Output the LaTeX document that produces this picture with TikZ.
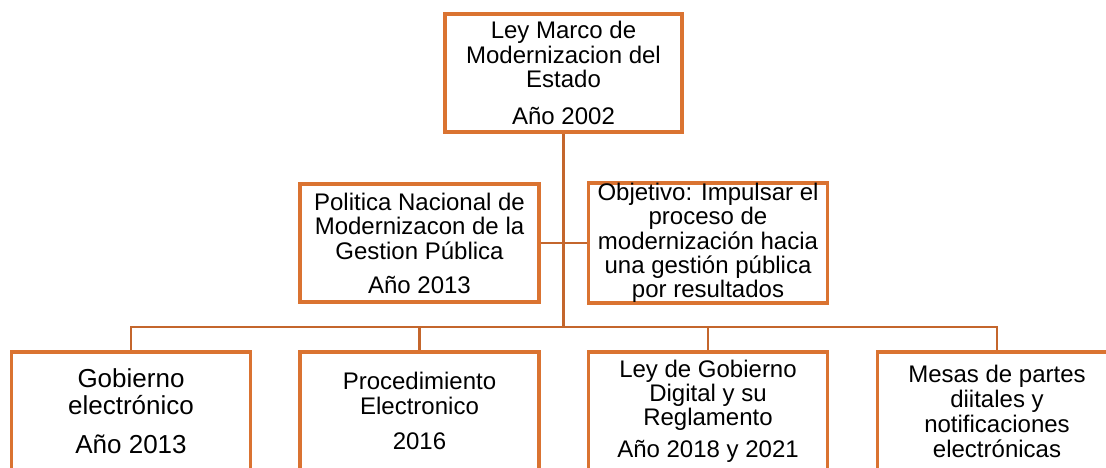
\documentclass[tikz,border=0pt]{standalone}
\usepackage{fontspec}
\setmainfont{Liberation Sans}
\usepackage{tikz}
\usetikzlibrary{positioning}
\definecolor{naranja}{HTML}{DA7331}
\definecolor{cobre}{HTML}{C4662C}

\begin{document}
\begin{tikzpicture}
  [
    x=1pt, y=1pt,
    Caja/.style={rectangle, draw=naranja, line width=3.8pt, minimum width=239pt, minimum height=118pt, inner sep=0pt, align=center, font=\fontsize{24}{24.5}\selectfont},
    Grande/.style={Caja, font=\fontsize{26}{27.5}\selectfont},
    Linea/.style={draw=cobre, line width=2.2pt}
  ]
  \useasboundingbox (0,0) rectangle (1106,-467);

  % Nodes
  \node[Caja, minimum width=237pt] (marco) at (563.5,-73) {Ley Marco de\\Modernizacion del\\Estado\\[12pt]Año 2002};

  \node[Caja] (politica) at (419.5,-243) {Politica Nacional de\\Modernizacon de la\\Gestion Pública\\[9.5pt]Año 2013};

  \node[Caja, font=\fontsize{24}{24.3}\selectfont] (objetivo) at (708,-243) {Objetivo: Impulsar el\\proceso de\\modernización hacia\\una gestión pública\\por resultados};

  \node[Grande] (gobierno) at (131,-411) {Gobierno\\electrónico\\[11.5pt]Año 2013};

  \node[Caja] (procedimiento) at (419.5,-411) {Procedimiento\\Electronico\\[10.5pt]2016};

  \node[Caja, font=\fontsize{24}{24}\selectfont] (digital) at (708,-411) {Ley de Gobierno\\Digital y su\\Reglamento\\[8pt]Año 2018 y 2021};

  \node[Caja, font=\fontsize{24}{25}\selectfont] (mesas) at (997,-411) {Mesas de partes\\diitales y\\notificaciones\\electrónicas};

  \coordinate (bus) at (563.5,-327);

  % Lines
  \path [Linea] (politica) -- (objetivo);
  \path [Linea] (marco) -- (bus);
  \foreach \hijo in {gobierno, procedimiento, digital, mesas}
    \path [Linea] (bus) -| (\hijo);

\end{tikzpicture}
\end{document}
